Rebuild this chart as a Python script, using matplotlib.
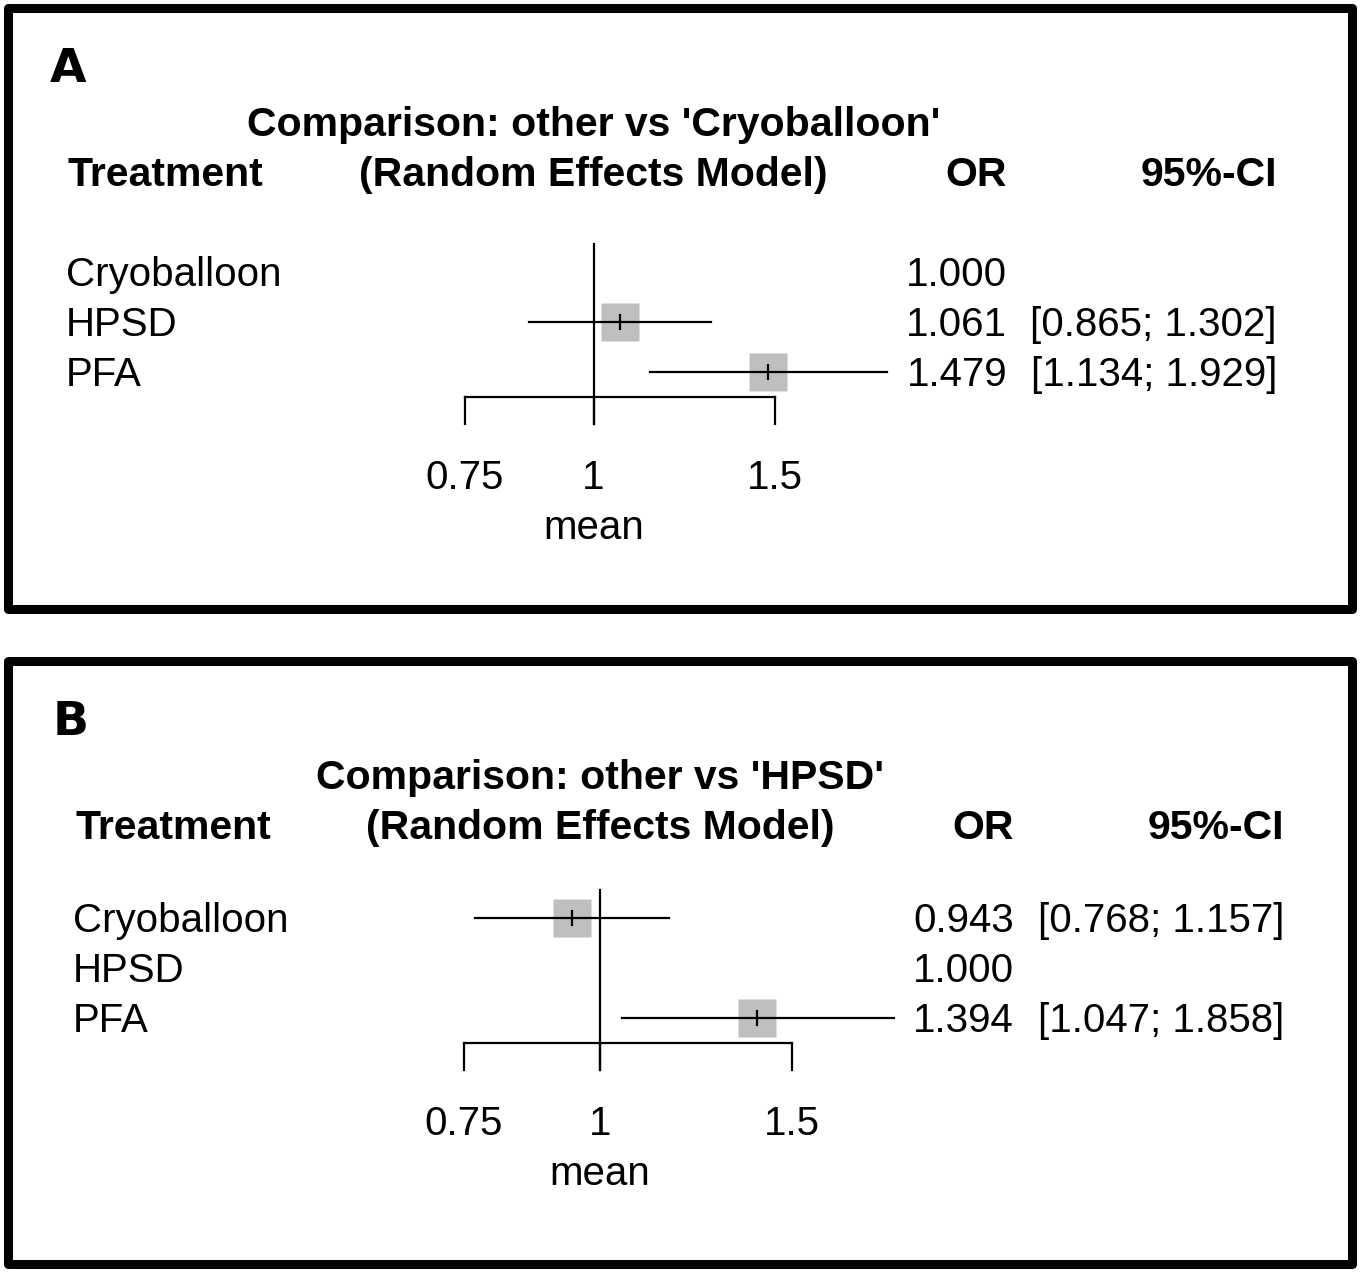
import numpy as np
import matplotlib
matplotlib.use("Agg")
import matplotlib.pyplot as plt
from matplotlib.patches import Rectangle

W, H = 1365, 1278
nan = np.nan

treatments = ["Cryoballoon", "HPSD", "PFA"]

# panel A: other vs 'Cryoballoon'
or_a = [1.000, 1.061, 1.479]
lo_a = [nan, 0.865, 1.134]
hi_a = [nan, 1.302, 1.929]

# panel B: other vs 'HPSD'
or_b = [0.943, 1.000, 1.394]
lo_b = [0.768, nan, 1.047]
hi_b = [1.157, nan, 1.858]

ticks = [0.75, 1, 1.5]
tick_labels = ["0.75", "1", "1.5"]

FONT = ["Liberation Sans", "DejaVu Sans"]
plt.rcParams['font.family'] = FONT

fig = plt.figure(figsize=(W / 100, H / 100), dpi=100)
fig.patch.set_facecolor("white")


def fx(x):
    return x / W


def fy(y):
    return 1 - y / H


def ftext(x, y, s, **kw):
    fig.text(fx(x), fy(y), s, va="baseline", **kw)


def panel(letter, ref, est, lo, hi, top, dx, center_px, scale_px, row0):
    # frame
    fig.add_artist(Rectangle((fx(7.5), fy(top[1])), fx(1352 - 7.5), (top[1] - top[0]) / H,
                             transform=fig.transFigure, fill=False, lw=6.5,
                             ec="black", joinstyle="round"))
    y0 = top[0]
    ftext(50 + dx / 3, y0 + 74, letter, fontsize=34, fontweight="bold", family="DejaVu Sans")
    ftext(center_px, y0 + 128, "Comparison: other vs '%s'" % ref, fontsize=29.5,
          fontweight="bold", ha="center")
    ftext(68 + dx, y0 + 178, "Treatment", fontsize=29.5, fontweight="bold")
    ftext(center_px, y0 + 178, "(Random Effects Model)", fontsize=29.5,
          fontweight="bold", ha="center")
    ftext(1007 + dx, y0 + 178, "OR", fontsize=29.5, fontweight="bold", ha="right")
    ftext(1277 + dx, y0 + 178, "95%-CI", fontsize=29.5, fontweight="bold", ha="right")

    for i, name in enumerate(treatments):
        yb = row0 + 14 + 50 * i
        ftext(66 + dx, yb, name, fontsize=29)
        ftext(1007 + dx, yb, "%.3f" % est[i], fontsize=29, ha="right")
        if not np.isnan(lo[i]):
            ftext(1277 + dx, yb, "[%.3f; %.3f]" % (lo[i], hi[i]), fontsize=29, ha="right")

    # forest axes, log scale
    L, R, T, B = 380, 960, row0 - 50, row0 + 290
    ax = fig.add_axes([fx(L), fy(B), (R - L) / W, (B - T) / H])
    ax.set_xscale("log")
    ax.set_xlim(np.exp((L - center_px) / scale_px), np.exp((R - center_px) / scale_px))
    ax.set_ylim((B - row0) / 50, (T - row0) / 50)
    ax.axis("off")

    rows = np.arange(len(treatments))
    for r in rows:
        if np.isnan(lo[r]):
            continue
        ax.plot([lo[r], hi[r]], [r, r], color="black", lw=1.6, clip_on=False, zorder=2)
        ax.plot(est[r], r, marker="s", ms=27.5, color="#bfbfbf", mec="none",
                clip_on=False, zorder=1)
        ax.plot([est[r], est[r]], [r - 0.14, r + 0.14], color="black", lw=1.6,
                clip_on=False, zorder=3)

    ax.plot([1, 1], [-0.56, 3.04], color="black", lw=1.6, clip_on=False)
    ax.plot([ticks[0], ticks[-1]], [2.5, 2.5], color="black", lw=1.6, clip_on=False)
    for t, lab in zip(ticks, tick_labels):
        ax.plot([t, t], [2.5, 3.04], color="black", lw=1.6, clip_on=False)
        ax.text(t, 4.34, lab, fontsize=29, ha="center", va="baseline", clip_on=False)
    ax.text(1, 5.34, "mean", fontsize=29, ha="center", va="baseline", clip_on=False)


panel("A", "Cryoballoon", or_a, lo_a, hi_a, (8.5, 609.5), 0, 593.5, 447, 272)
panel("B", "HPSD", or_b, lo_b, hi_b, (661, 1263.5), 7, 600, 474, 918)

fig.savefig("out.png", dpi=100, facecolor="white")
